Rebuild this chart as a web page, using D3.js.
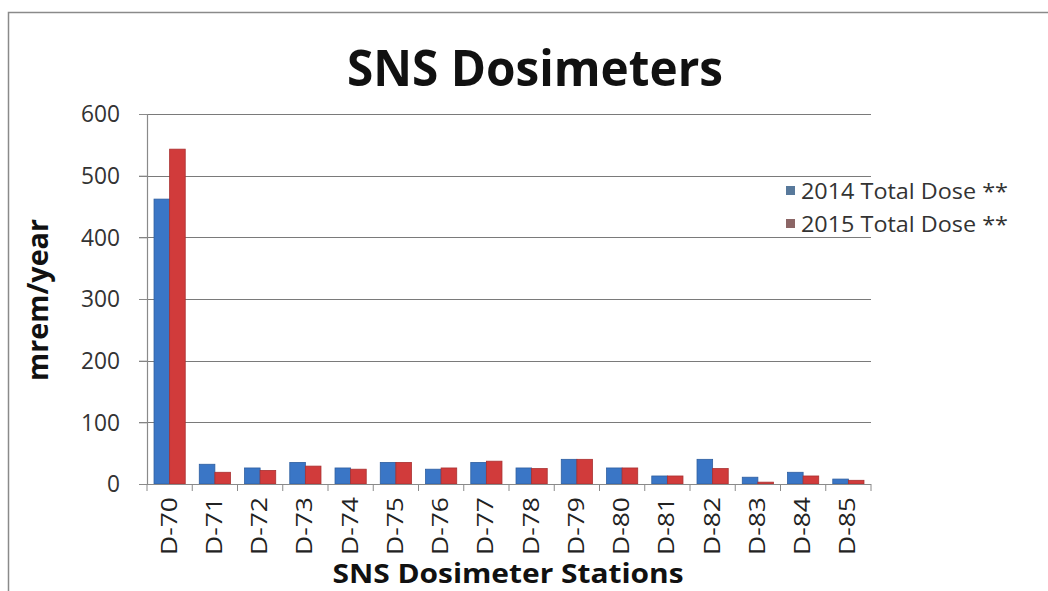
<!DOCTYPE html>
<html lang="en">
<head>
    <meta charset="UTF-8">
    <title>SNS Dosimeters</title>
    <script src="https://d3js.org/d3.v7.min.js"></script>
    <style>
        body {
            margin: 0;
            background: #fff;
        }
        svg text {
            font-family: "Open Sans", sans-serif;
        }
    </style>
</head>
<body>
    <svg width="1048" height="591"></svg>

    <script>
        // station names and doses (mrem/year)
        const stations = ["D-70", "D-71", "D-72", "D-73", "D-74", "D-75", "D-76", "D-77",
                          "D-78", "D-79", "D-80", "D-81", "D-82", "D-83", "D-84", "D-85"];
        const dose2014 = [462, 32, 26, 35, 26, 35, 24, 35, 26, 40, 26, 13, 40, 11, 19, 8];
        const dose2015 = [543, 19, 22, 29, 24, 35, 26, 37, 25, 40, 26, 13, 25, 3, 13, 6];
        const seriesNames = ["2014 Total Dose **", "2015 Total Dose **"];
        const yTicks = [0, 100, 200, 300, 400, 500, 600];

        const barColors = ["#3a76c6", "#d13b3b"];
        const legendColors = ["#58799b", "#8c6666"];

        const svg = d3.select("svg");

        // chart frame
        svg.append("path")
            .attr("d", "M8.5,591 V12.5 H1048")
            .attr("fill", "none")
            .attr("stroke", "#8a8a8a")
            .attr("stroke-width", 1.5);

        const plot = { left: 147, right: 871, top: 114, bottom: 484 };

        const x = d3.scaleBand()
            .domain(stations)
            .range([plot.left, plot.right]);

        const xInner = d3.scaleBand()
            .domain([0, 1])
            .range([0, x.bandwidth()])
            .paddingInner(0)
            .paddingOuter(0.45);

        const y = d3.scaleLinear()
            .domain([0, 600])
            .range([plot.bottom, plot.top]);

        // horizontal gridlines
        svg.append("g")
            .selectAll("line")
            .data(yTicks.slice(1))
            .enter().append("line")
            .attr("x1", plot.left - 8)
            .attr("x2", plot.right)
            .attr("y1", d => Math.round(y(d)) + 0.5)
            .attr("y2", d => Math.round(y(d)) + 0.5)
            .attr("stroke", "#7a7a7a")
            .attr("stroke-width", 1.2);

        // y axis
        const yAxis = svg.append("g")
            .attr("transform", `translate(${plot.left},0)`)
            .call(d3.axisLeft(y).tickValues(yTicks).tickSize(8).tickPadding(19));
        yAxis.select(".domain").attr("stroke", "#8a8a8a").attr("stroke-width", 1.2);
        yAxis.selectAll(".tick line").attr("stroke", "#8a8a8a");
        yAxis.selectAll(".tick text")
            .attr("font-size", 24)
            .attr("fill", "#333")
            .attr("textLength", d => String(d).length === 3 ? 39 : 13)
            .attr("lengthAdjust", "spacingAndGlyphs")
            .style("font-family", "'Open Sans', sans-serif");

        // bars
        const groups = svg.append("g")
            .selectAll("g")
            .data(stations)
            .enter().append("g")
            .attr("transform", d => `translate(${x(d)},0)`);

        [dose2014, dose2015].forEach((series, s) => {
            groups.append("rect")
                .attr("x", xInner(s))
                .attr("width", xInner.bandwidth())
                .attr("y", (d, i) => y(series[i]))
                .attr("height", (d, i) => y(0) - y(series[i]))
                .attr("fill", barColors[s])
                .attr("stroke", d3.color(barColors[s]).darker(0.6))
                .attr("stroke-width", 0.8);
        });

        // x axis
        const xAxis = svg.append("g")
            .attr("transform", `translate(0,${plot.bottom})`);
        xAxis.append("line")
            .attr("x1", plot.left - 8)
            .attr("x2", plot.right)
            .attr("y1", 0.5)
            .attr("y2", 0.5)
            .attr("stroke", "#8a8a8a")
            .attr("stroke-width", 1.2);
        xAxis.selectAll(".xtick")
            .data(stations.concat(["end"]))
            .enter().append("line")
            .attr("x1", (d, i) => i < stations.length ? x(d) : plot.right)
            .attr("x2", (d, i) => i < stations.length ? x(d) : plot.right)
            .attr("y1", 0)
            .attr("y2", 7)
            .attr("stroke", "#8a8a8a");
        xAxis.selectAll(".xlabel")
            .data(stations)
            .enter().append("text")
            .attr("transform", d => `translate(${x(d) + x.bandwidth() / 2 + 7},${13}) rotate(-90)`)
            .attr("text-anchor", "end")
            .attr("font-size", 22)
            .attr("fill", "#222")
            .attr("textLength", 58)
            .attr("lengthAdjust", "spacingAndGlyphs")
            .text(d => d);

        // titles
        svg.append("text")
            .attr("x", 535)
            .attr("y", 86)
            .attr("text-anchor", "middle")
            .attr("font-size", 50)
            .attr("font-weight", "bold")
            .attr("textLength", 376)
            .attr("lengthAdjust", "spacingAndGlyphs")
            .attr("fill", "#111")
            .text("SNS Dosimeters");

        svg.append("text")
            .attr("transform", "translate(48,300) rotate(-90)")
            .attr("text-anchor", "middle")
            .attr("font-size", 28)
            .attr("font-weight", "bold")
            .attr("textLength", 162)
            .attr("lengthAdjust", "spacingAndGlyphs")
            .attr("fill", "#111")
            .text("mrem/year");

        svg.append("text")
            .attr("x", 508)
            .attr("y", 583)
            .attr("text-anchor", "middle")
            .attr("font-size", 26)
            .attr("font-weight", "bold")
            .attr("textLength", 351)
            .attr("lengthAdjust", "spacingAndGlyphs")
            .attr("fill", "#111")
            .text("SNS Dosimeter Stations");

        // legend
        const legend = svg.append("g")
            .attr("transform", "translate(786,191)");
        seriesNames.forEach((name, i) => {
            const row = legend.append("g").attr("transform", `translate(0,${i * 33})`);
            row.append("rect")
                .attr("x", 0)
                .attr("y", -5)
                .attr("width", 9)
                .attr("height", 9)
                .attr("fill", legendColors[i]);
            row.append("text")
                .attr("x", 15)
                .attr("y", 8)
                .attr("font-size", 21)
                .attr("fill", "#333")
                .attr("textLength", 207)
                .attr("lengthAdjust", "spacingAndGlyphs")
                .text(name);
        });
    </script>
</body>
</html>
